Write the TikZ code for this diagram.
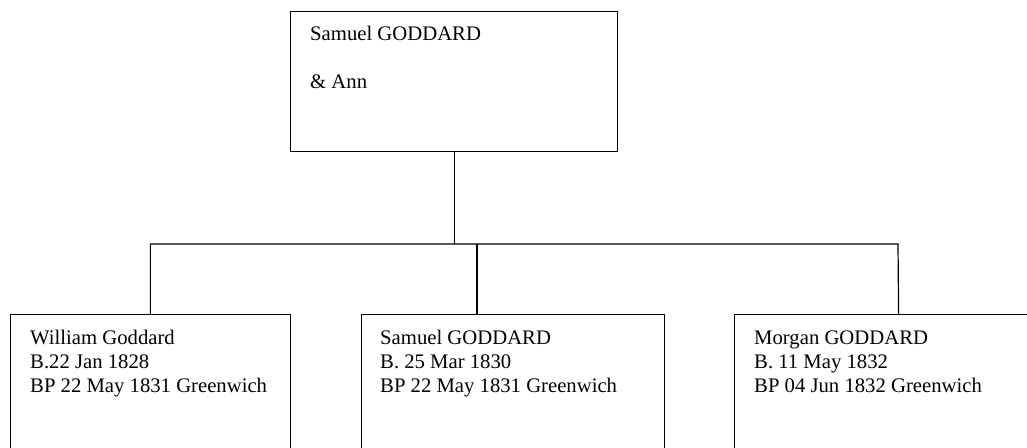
\documentclass[tikz,border=0pt]{standalone}
\usepackage{fontspec}
\setmainfont{Liberation Serif}
\tikzset{
  famrect/.style={draw=black, line width=1.2pt, rectangle, inner sep=0pt, anchor=north west},
  famtext/.style={inner sep=0pt, anchor=base west, font=\fontsize{20.7}{24}\selectfont},
  famline/.style={draw=black, line width=1.2pt}
}
\newcommand{\famlines}[1]{\begin{tabular}[t]{@{}l@{}}#1\end{tabular}}
\begin{document}
\begin{tikzpicture}[x=1pt,y=-1pt]
\useasboundingbox (0,0) rectangle (1027,447);
\clip (0,0) rectangle (1027,447);
% boxes
\node[famrect, minimum width=327pt, minimum height=140pt] (top) at (290,11) {};
\node[famrect, minimum width=280.5pt, minimum height=200pt] (c1) at (9.5,314) {};
\node[famrect, minimum width=303pt, minimum height=200pt] (c2) at (361,314) {};
\node[famrect, minimum width=328pt, minimum height=200pt] (c3) at (734,314) {};
% texts
\node[famtext] (ttop) at (310,40) {\famlines{Samuel GODDARD\\ \\ \& Ann}};
\node[famtext] (tc1) at (30,344) {\famlines{William Goddard\\B.22 Jan 1828\\BP 22 May 1831 Greenwich}};
\node[famtext] (tc2) at (380,344) {\famlines{Samuel GODDARD\\B. 25 Mar 1830\\BP 22 May 1831 Greenwich}};
\node[famtext] (tc3) at (754,344) {\famlines{Morgan GODDARD\\B. 11 May 1832\\BP 04 Jun 1832 Greenwich}};
% connectors
\coordinate (busL) at (150,244);
\coordinate (busR) at (898,244);
\coordinate (m) at (477,314);
\draw[famline] (top.south) -- (top.south |- busL);
\draw[famline] (c1.north) |- (busR) -- (c3.north);
\draw[famline] (m) -- (m |- busL);
\end{tikzpicture}
\end{document}
